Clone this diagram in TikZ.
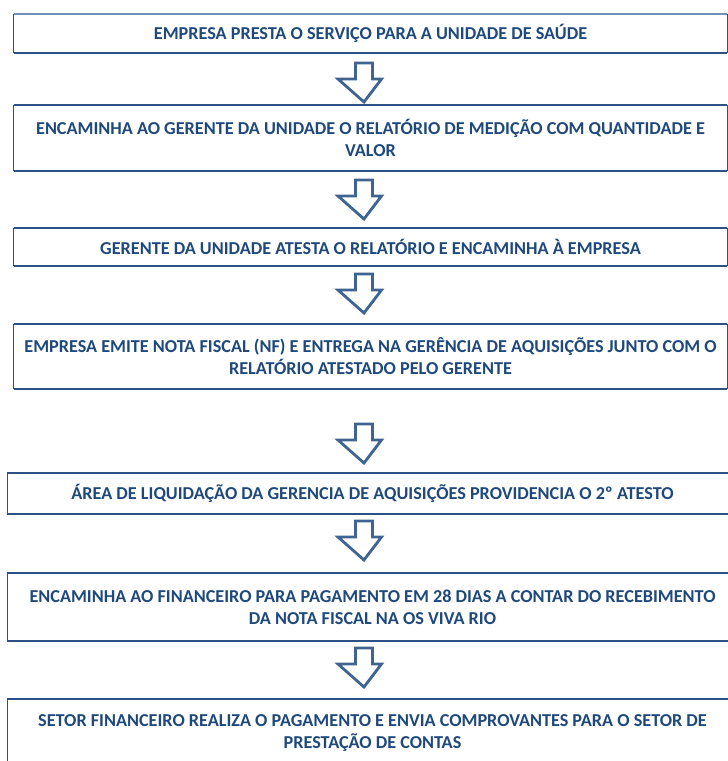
\documentclass[tikz,border=0pt]{standalone}
\usepackage{fontspec}
\setmainfont{Carlito}
\usetikzlibrary{calc}
\definecolor{txtblue}{HTML}{1F497D}
\definecolor{boxblue}{HTML}{2C5186}
\definecolor{lightblue}{HTML}{7391B8}
\definecolor{arrblue}{HTML}{3F6491}
\tikzset{
  stepbox/.style={draw=none, inner sep=0pt, align=center, text=txtblue,
    font=\bfseries\fontsize{18.2}{22}\selectfont},
  sideline/.style={draw=boxblue, line width=1.1pt},
  hline/.style={draw=boxblue, line width=2.2pt},
  blockarr/.style={draw=arrblue, line width=2.8pt, fill=white, line join=miter},
}
\newcommand{\blockarrow}[1]{%
  \draw[blockarr] (#1) ++(-8.5,0) -- ++(17,0) -- ++(0,16) -- ++(9,0)
    -- ($(#1)+(0,39)$) -- ($(#1)+(-26,16)$) -- ($(#1)+(-8.5,16)$) -- cycle;}
\begin{document}
\begin{tikzpicture}[x=1pt,y=-1pt]
\useasboundingbox (0,0) rectangle (728,761);
\fill[white] (0,0) rectangle (728,761);
% boxes
\node[stepbox, minimum width=713, minimum height=39] (b1) at (370.5,33.5)
  {EMPRESA PRESTA O SERVIÇO PARA A UNIDADE DE SAÚDE};
\node[stepbox, minimum width=713, minimum height=66] (b2) at (370.5,138)
  {ENCAMINHA AO GERENTE DA UNIDADE O RELATÓRIO DE MEDIÇÃO COM QUANTIDADE E\\VALOR};
\node[stepbox, minimum width=713, minimum height=38] (b3) at (370.5,247)
  {GERENTE DA UNIDADE ATESTA O RELATÓRIO E ENCAMINHA À EMPRESA};
\node[stepbox, minimum width=713, minimum height=65] (b4) at (370.5,356.5)
  {EMPRESA EMITE NOTA FISCAL (NF) E ENTREGA NA GERÊNCIA DE AQUISIÇÕES JUNTO COM O\\RELATÓRIO ATESTADO PELO GERENTE};
\node[stepbox, minimum width=730, minimum height=41] (b5) at (372.5,493.5)
  {ÁREA DE LIQUIDAÇÃO DA GERENCIA DE AQUISIÇÕES PROVIDENCIA O 2º ATESTO};
\node[stepbox, minimum width=730, minimum height=68] (b6) at (372.5,607)
  {ENCAMINHA AO FINANCEIRO PARA PAGAMENTO EM 28 DIAS A CONTAR DO RECEBIMENTO\\DA NOTA FISCAL NA OS VIVA RIO};
\node[stepbox, minimum width=730, minimum height=68] (b7) at (372.5,733)
  {SETOR FINANCEIRO REALIZA O PAGAMENTO E ENVIA COMPROVANTES PARA O SETOR DE\\PRESTAÇÃO DE CONTAS};
% borders
\draw[sideline] (b1.north west) -- (b1.south west) (b1.north east) -- (b1.south east);
\draw[draw=lightblue, line width=1.6pt] (b1.north west) -- (b1.north east);
\draw[hline] (b1.south west) -- (b1.south east);
\foreach \b in {b2,b3,b4,b5,b6,b7}{
  \draw[sideline] (\b.north west) -- (\b.south west) (\b.north east) -- (\b.south east);
  \draw[hline] (\b.north west) -- (\b.north east) (\b.south west) -- (\b.south east);
}
% block arrows
\coordinate (a1) at (364,63);
\coordinate (a2) at (364,180);
\coordinate (a3) at (364,274);
\coordinate (a4) at (364,424);
\coordinate (a5) at (364,521);
\coordinate (a6) at (364,648);
\foreach \a in {a1,a2,a3,a4,a5,a6}{\blockarrow{\a}}
\end{tikzpicture}
\end{document}
